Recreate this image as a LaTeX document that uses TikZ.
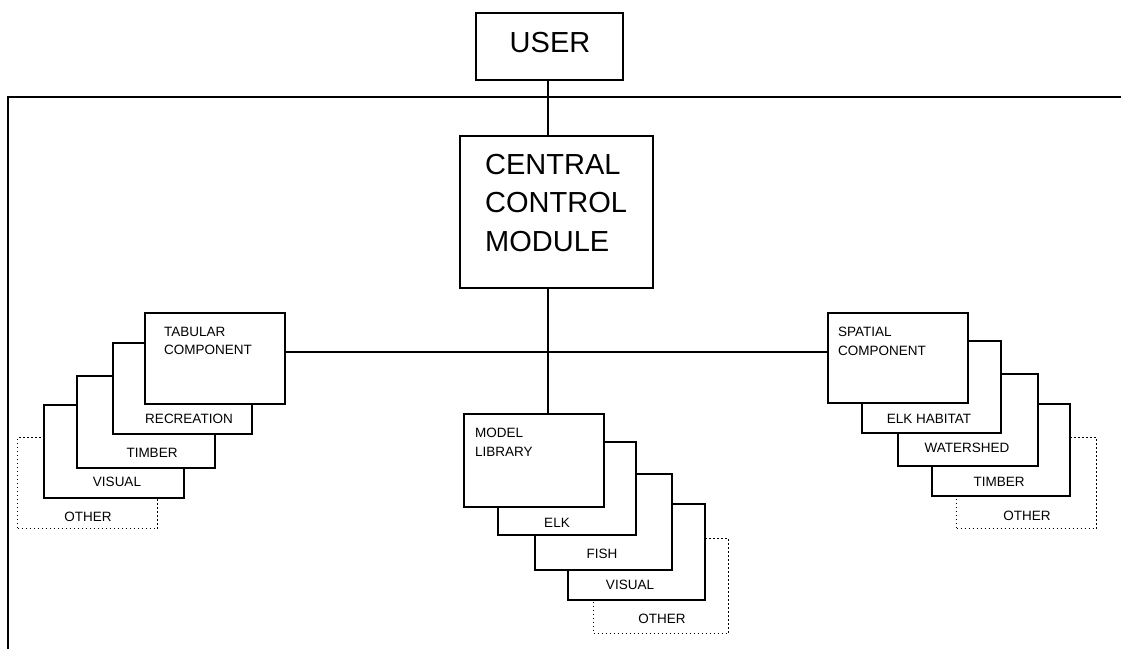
\documentclass[tikz,border=0pt]{standalone}
\usepackage{fontspec}
\setmainfont{Liberation Sans}
\begin{document}
\begin{tikzpicture}[x=1pt,y=-1pt,
  bx/.style={draw, line width=1.5pt, fill=white, inner sep=0pt, anchor=north west},
  ox/.style={bx, line width=1.4pt, dash pattern=on 1.5pt off 2.5pt},
  lbl/.style={font=\fontsize{13.5}{18}\selectfont, inner sep=0pt, anchor=base},
  mlbl/.style={font=\fontsize{13.5}{18.5}\selectfont, inner sep=0pt, anchor=north west, align=left},
  big/.style={font=\fontsize{29}{38.5}\selectfont, inner sep=0pt},
  conn/.style={line width=1.5pt}
]
\useasboundingbox (0,0) rectangle (1121,649);
\fill[white] (0,0) rectangle (1121,649);

% frame
\coordinate (fb) at (8,649);
\coordinate (ft) at (8,97);
\coordinate (fr) at (1121,97);
\draw[conn] (fb) -- (ft) -- (fr);

% USER and central control module
\node[bx, minimum width=147pt, minimum height=67pt] (user) at (475,12) {};
\node[big, anchor=base] (usert) at (550,52) {USER};
\node[bx, minimum width=193pt, minimum height=152pt] (ccm) at (459,135) {};
\node[big, anchor=north west, align=left] (ccmt) at (485,154) {CENTRAL\\CONTROL\\MODULE};
\draw[conn] (user.south -| 548,0) -- (ccm.north -| 548,0);

% left stack
\node[ox, minimum width=140pt, minimum height=91pt] (otherL) at (17,437) {};
\node[lbl] (otherLt) at (88,521) {OTHER};
\node[bx, minimum width=140pt, minimum height=93pt] (visualL) at (43,404) {};
\node[lbl] (visualLt) at (117,486) {VISUAL};
\node[bx, minimum width=138pt, minimum height=92pt] (timberL) at (76,375) {};
\node[lbl] (timberLt) at (152,457) {TIMBER};
\node[bx, minimum width=139pt, minimum height=91pt] (recre) at (112,342) {};
\node[lbl] (recret) at (189,423) {RECREATION};
\node[bx, minimum width=140pt, minimum height=91pt] (tab) at (144,312) {};
\node[mlbl] (tabt) at (164,327) {TABULAR\\COMPONENT};

% middle stack
\node[ox, minimum width=135pt, minimum height=95pt] (otherM) at (593,538) {};
\node[lbl] (otherMt) at (662,623) {OTHER};
\node[bx, minimum width=137pt, minimum height=96pt] (visualM) at (567,503) {};
\node[lbl] (visualMt) at (630,589) {VISUAL};
\node[bx, minimum width=137pt, minimum height=96pt] (fish) at (534,473) {};
\node[lbl] (fisht) at (602,558) {FISH};
\node[bx, minimum width=138pt, minimum height=93pt] (elk) at (497,441) {};
\node[lbl] (elkt) at (557,527) {ELK};
\node[bx, minimum width=140pt, minimum height=93pt] (model) at (463,413) {};
\node[mlbl] (modelt) at (475,428) {MODEL\\LIBRARY};

% right stack
\node[ox, minimum width=140pt, minimum height=91pt] (otherR) at (956,437) {};
\node[lbl] (otherRt) at (1027,520) {OTHER};
\node[bx, minimum width=138pt, minimum height=92pt] (timberR) at (931,403) {};
\node[lbl] (timberRt) at (999,486) {TIMBER};
\node[bx, minimum width=140pt, minimum height=92pt] (water) at (897,373) {};
\node[lbl] (watert) at (967,452) {WATERSHED};
\node[bx, minimum width=139pt, minimum height=92pt] (elkh) at (861,340) {};
\node[lbl] (elkht) at (929,423) {ELK HABITAT};
\node[bx, minimum width=140pt, minimum height=90pt] (spa) at (827,312) {};
\node[mlbl] (spat) at (838,327) {SPATIAL\\COMPONENT};

% connectors
\coordinate (junc) at (548,352);
\draw[conn] (ccm.south -| junc) -- (model.north -| junc);
\draw[conn] (tab.east |- junc) -- (spa.west |- junc);
\end{tikzpicture}
\end{document}
